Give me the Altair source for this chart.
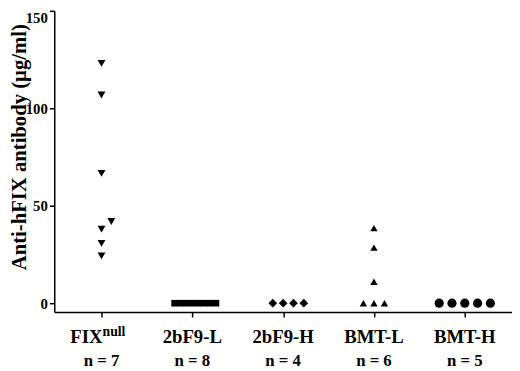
import altair as alt
import pandas as pd

# ---- data ----
groups = ["FIXnull", "2bF9-L", "2bF9-H", "BMT-L", "BMT-H"]
label_main = ["FIX", "2bF9-L", "2bF9-H", "BMT-L", "BMT-H"]
label_sup = ["null", "", "", "", ""]
label_n = ["n = 7", "n = 8", "n = 4", "n = 6", "n = 5"]

fix_null = [123, 106.8, 66.6, 41.9, 38, 30.7, 24.3]
bf9_l = [0, 0, 0, 0, 0, 0, 0, 0]
bf9_h = [0, 0, 0, 0]
bmt_l = [38.5, 28.5, 11, 0, 0, 0]
bmt_h = [0, 0, 0, 0, 0]
series = [fix_null, bf9_l, bf9_h, bmt_l, bmt_h]

# ---- styles ----
shapes = ["triangle-down", "square", "diamond", "triangle-up", "circle"]
sizes = [64, 45, 78, 56, 86]
steps_px = [10, 6, 10.5, 10.7, 13]  # horizontal dodge step per group

W, H = 465, 306
X_DOM = [-0.52, 4.52]
Y_DOM = [-4.55, 150]
px_per_x = W / (X_DOM[1] - X_DOM[0])
px_per_y = H / (Y_DOM[1] - Y_DOM[0])
COLLIDE_PX = 9.0

rows = []
for gi, vals in enumerate(series):
    order = [0, 1, -1, 2, -2, 3, -3, 4, -4, 5, -5]
    placed = {}
    for v in sorted(vals):
        for c in order:
            if all(abs(v - u) * px_per_y >= COLLIDE_PX for u in placed.get(c, [])):
                placed.setdefault(c, []).append(v)
                col = c
                break
        rows.append({
            "group": groups[gi],
            "value": v,
            "xpos": gi + col * steps_px[gi] / px_per_x,
        })
pts = pd.DataFrame(rows)

labels = pd.DataFrame({
    "idx": list(range(len(groups))),
    "main": label_main,
    "sup": label_sup,
    "n": label_n,
})

FONT = "Liberation Serif"

xscale = alt.Scale(domain=X_DOM, nice=False, zero=False)
yscale = alt.Scale(domain=Y_DOM, nice=False, zero=False)

xaxis = alt.Axis(values=[0, 1, 2, 3, 4], labels=False, title=None, grid=False,
                 ticks=True, tickSize=5, tickWidth=1.5, domainWidth=1.5,
                 domainColor="black", tickColor="black")
yaxis = alt.Axis(values=[0, 50, 100, 150], grid=False, tickSize=5, tickWidth=1.5,
                 domainWidth=1.5, domainColor="black", tickColor="black",
                 labelFont=FONT, labelFontSize=15, labelFontWeight="bold",
                 labelColor="black", labelPadding=2, labelFlush=True,
                 title="Anti-hFIX antibody (µg/ml)", titleFont=FONT,
                 titleFontSize=21, titleFontWeight="bold", titleColor="black",
                 titleAngle=270, titleAlign="center", titleBaseline="middle",
                 titleX=-35, titleY=138)

base_pts = alt.Chart(pts)
layers = []
for gi, g in enumerate(groups):
    layers.append(
        base_pts.transform_filter(alt.datum.group == g)
        .mark_point(shape=shapes[gi], size=sizes[gi], filled=True, color="black", opacity=1)
        .encode(
            x=alt.X("xpos:Q", scale=xscale, axis=xaxis),
            y=alt.Y("value:Q", scale=yscale, axis=yaxis),
        )
    )

lab = alt.Chart(labels)
main_center = lab.transform_filter(alt.datum.sup == "").mark_text(
    font=FONT, fontSize=19, fontWeight="bold", color="black",
    align="center", baseline="alphabetic"
).encode(x=alt.X("idx:Q", scale=xscale), y=alt.value(337), text="main:N")

main_right = lab.transform_filter(alt.datum.sup != "").mark_text(
    font=FONT, fontSize=19, fontWeight="bold", color="black",
    align="right", baseline="alphabetic", dx=1
).encode(x=alt.X("idx:Q", scale=xscale), y=alt.value(337), text="main:N")

sup = lab.transform_filter(alt.datum.sup != "").mark_text(
    font=FONT, fontSize=14, fontWeight="bold", color="black",
    align="left", baseline="alphabetic", dx=1
).encode(x=alt.X("idx:Q", scale=xscale), y=alt.value(330), text="sup:N")

nlab = lab.mark_text(
    font=FONT, fontSize=17, fontWeight="bold", color="black",
    align="center", baseline="alphabetic"
).encode(x=alt.X("idx:Q", scale=xscale), y=alt.value(361), text="n:N")

chart = alt.layer(*layers, main_center, main_right, sup, nlab).properties(
    width=W, height=H,
    autosize=alt.AutoSizeParams(type="none"),
    padding={"left": 47, "top": 0, "right": 0, "bottom": 57},
    background="white",
).configure_view(stroke=None)

chart.save("out.html", embed_options={"renderer": "svg", "actions": False})
